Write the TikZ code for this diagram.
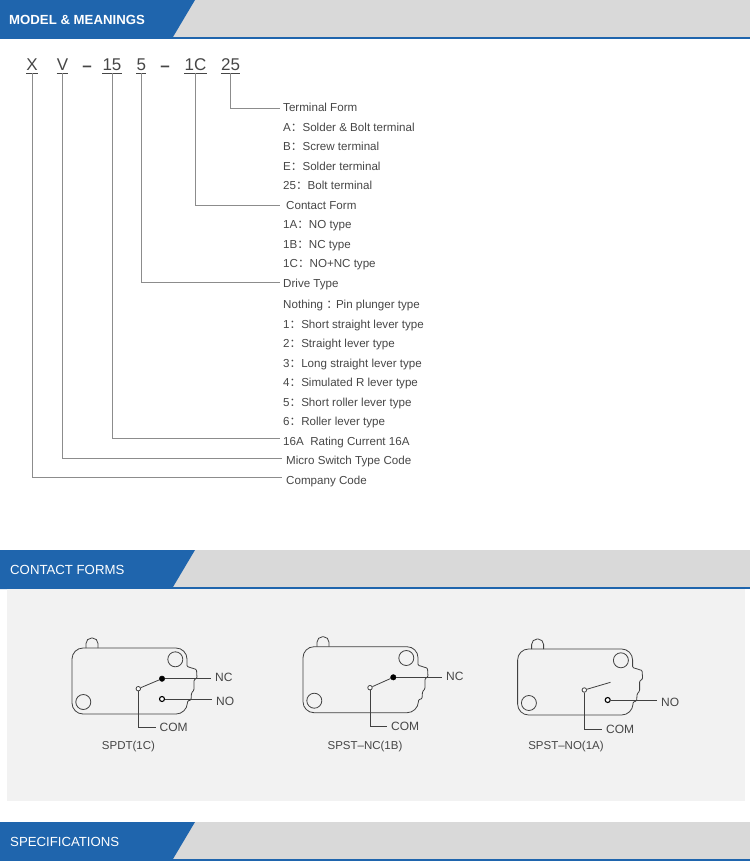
\documentclass[tikz,border=0pt]{standalone}
\usepackage{xcolor}
\usepackage{fontspec}
\setmainfont{Liberation Sans}
\newfontfamily\cjk{Noto Sans CJK SC}
\usetikzlibrary{positioning}
\definecolor{bannerblue}{RGB}{31,101,173}
\definecolor{bannergray}{RGB}{217,217,217}
\definecolor{panelgray} {RGB}{242,242,242}
\definecolor{leadgray}  {RGB}{140,140,140}
\definecolor{textgray}  {RGB}{70,70,70}
\definecolor{wiregray}  {RGB}{65,65,65}
\newcommand{\cn}{{\cjk ：}}
\tikzset{
  codelabel/.style={inner sep=0pt, anchor=south, text=textgray, text height=12pt,
                    text depth=2pt, font=\fontsize{17}{20}\selectfont},
  itemlabel/.style={inner sep=0pt, anchor=west, text=textgray, text height=9pt,
                    text depth=2.5pt, font=\fontsize{11.6}{14}\selectfont},
  wirelabel/.style={inner xsep=4pt, inner ysep=0pt, anchor=west, text=textgray,
                    font=\fontsize{12}{14}\selectfont},
  formlabel/.style={inner sep=0pt, text=textgray, font=\fontsize{11.5}{14}\selectfont},
  leader/.style={draw=leadgray, line width=0.8pt},
  wire/.style={draw=wiregray, line width=0.8pt},
  opendot/.style={circle, draw=wiregray, fill=white, line width=0.8pt,
                  minimum size=4.5pt, inner sep=0pt},
  nodot/.style={opendot, draw=black, line width=1.1pt, minimum size=5pt},
  shutdot/.style={circle, draw=black, fill=black, minimum size=5.5pt, inner sep=0pt},
  switchbody/.pic={
    \draw[draw=wiregray, line width=0.8pt]
      [rounded corners=11pt] (72,680) -- (72,648) -- (187,648)
      [rounded corners=1pt] -- (187,666.5) -- (196.5,669.5) -- (197,678) -- (194,680)
      -- (194,690) -- (191.5,693) -- (191,700) -- (187.5,701)
      [rounded corners=11pt] -- (187,714) -- (72,714) -- (72,680);
    \draw[draw=wiregray, line width=0.8pt, rounded corners=5.5pt]
      (86,648) -- (86,638) -- (98,638) -- (98,648);
    \draw[draw=wiregray, line width=0.8pt] (175.3,659.3) circle[radius=7.5];
    \draw[draw=wiregray, line width=0.8pt] (83.3,702) circle[radius=7.5];
  }
}
\begin{document}
\begin{tikzpicture}[x=1pt, y=-1pt]
  \useasboundingbox (0,0) rectangle (750,861);
  % section bars
  \foreach \name/\ypos/\xpos/\lift/\txt in {model/0/9/19.5/{\bfseries MODEL \& MEANINGS},
      contact/550/10/20/{CONTACT FORMS}, spec/822/10/20/{SPECIFICATIONS}} {
    \fill[bannergray] (173,\ypos) rectangle (750,\ypos+37);
    \fill[bannerblue] (0,\ypos+37) rectangle (750,\ypos+39);
    \fill[bannerblue] (0,\ypos) -- (195,\ypos) -- (173,\ypos+37) -- (173,\ypos+39)
      -- (0,\ypos+39) -- cycle;
    \node[inner sep=0pt, anchor=west, text=white, font=\fontsize{13.2}{16}\selectfont]
      (\name) at (\xpos,\ypos+\lift) {\txt};
  }
  \fill[panelgray] (7,589) rectangle (745,801);

  % part code
  \foreach \name/\xpos/\wid/\txt in {cx/32/11/X, cv/62.5/11/V, cdrive/112/18/15,
      ctype/141.3/9/5, cform/195.5/21/1C, cterm/230.5/19/25} {
    \node[codelabel, minimum width=\wid pt] (\name) at (\xpos,73) {\txt};
    \draw[draw=textgray, line width=0.7pt] (\name.south west) -- (\name.south east);
  }
  \node[codelabel] (dasha) at (87,74) {\bfseries --};
  \node[codelabel] (dashb) at (165,74) {\bfseries --};

  % meanings
  \foreach \name/\ypos/\xpos/\txt in {
      iterm/108.5/283/Terminal Form,
      ia/128/283/A\cn Solder \& Bolt terminal,
      ib/147.5/283/B\cn Screw terminal,
      ie/167/283/E\cn Solder terminal,
      iw/186.5/283/25\cn Bolt terminal,
      iform/206/286/Contact Form,
      ina/225.5/283/1A\cn NO type,
      inb/245/283/1B\cn NC type,
      inc/264.5/283/1C\cn NO+NC type,
      idrive/284/283/Drive Type,
      ipin/305/283/Nothing\ \cn\hspace{-2pt}Pin plunger type,
      ione/325/283/1\cn Short straight lever type,
      itwo/344.5/283/2\cn Straight lever type,
      ithree/364/283/3\cn Long straight lever type,
      ifour/383.5/283/4\cn Simulated R lever type,
      ifive/403/283/5\cn Short roller lever type,
      isix/422.5/283/6\cn Roller lever type,
      irate/442/283/16A\ \ Rating Current 16A,
      imicro/461.5/286/Micro Switch Type Code,
      icomp/481/286/Company Code} {
    \node[itemlabel] (\name) at (\xpos,\ypos) {\txt};
  }
  \draw[leader] (cterm.south) |- ([xshift=-3pt,yshift=0.5pt]iterm.west);
  \draw[leader] (cform.south) |- ([xshift=-6pt,yshift=1pt]iform.west);
  \draw[leader] (ctype.south) |- ([xshift=-3pt,yshift=2pt]idrive.west);
  \draw[leader] (cdrive.south) |- ([xshift=-3pt,yshift=4pt]irate.west);
  \draw[leader] (cv.south) |- ([xshift=-4pt,yshift=3.5pt]imicro.west);
  \draw[leader] (cx.south) |- ([xshift=-4pt,yshift=4pt]icomp.west);

  % SPDT
  \pic at (0,0) {switchbody};
  \node[opendot] (coma) at (138.3,688.7) {};
  \node[shutdot] (nca) at (162,678.7) {};
  \node[nodot] (noa) at (162,699) {};
  \node[wirelabel] (nclabela) at (211,677.5) {NC};
  \node[wirelabel] (nolabela) at (212,701) {NO};
  \node[wirelabel] (comlabela) at (155.5,727.7) {COM};
  \node[formlabel] (forma) at (128.5,747) {SPDT(1C)};
  \draw[wire] (coma) -- (nca);
  \draw[wire] (nca) -- (nca -| nclabela.west);
  \draw[wire] (noa) -- (noa -| nolabela.west);
  \draw[wire] (coma) |- (comlabela.west);

  % SPST-NC
  \pic at (231,-1.3) {switchbody};
  \node[opendot] (comb) at (370,687.7) {};
  \node[shutdot] (ncb) at (393.3,677.3) {};
  \node[wirelabel] (nclabelb) at (442,676.5) {NC};
  \node[wirelabel] (comlabelb) at (387,726) {COM};
  \node[formlabel] (formb) at (365,747) {SPST--NC(1B)};
  \draw[wire] (comb) -- (ncb);
  \draw[wire] (ncb) -- (ncb -| nclabelb.west);
  \draw[wire] (comb) |- (comlabelb.west);

  % SPST-NO
  \pic at (445.6,1) {switchbody};
  \node[opendot] (comc) at (584.3,690) {};
  \coordinate (leverc) at (610.5,682.3);
  \node[nodot] (noc) at (607.7,700) {};
  \node[wirelabel] (nolabelc) at (657,702) {NO};
  \node[wirelabel] (comlabelc) at (602,729) {COM};
  \node[formlabel] (formc) at (566,747) {SPST--NO(1A)};
  \draw[wire] (comc) -- (leverc);
  \draw[wire] (noc) -- (noc -| nolabelc.west);
  \draw[wire] (comc) |- (comlabelc.west);
\end{tikzpicture}
\end{document}
